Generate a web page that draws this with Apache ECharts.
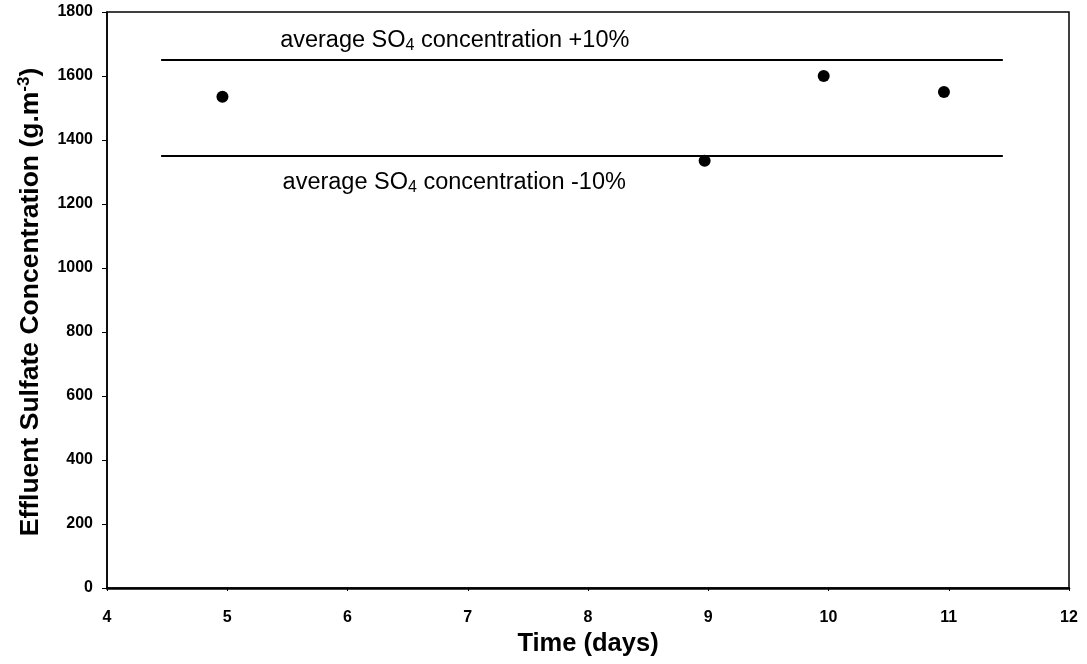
<!DOCTYPE html>
<html>
<head>
<meta charset="utf-8">
<title>Effluent sulfate concentration</title>
<script src="https://cdn.jsdelivr.net/npm/echarts@6/dist/echarts.min.js"></script>
<style>
  html, body { margin: 0; padding: 0; background: #fff; }
  #chart { width: 1087px; height: 664px; }
</style>
</head>
<body>
<div id="chart"></div>
<script>
"use strict";

// 测量点 (days, g.m-3)
const days = [4.96, 8.97, 9.96, 10.96];
const sulfate = [1535, 1335, 1600, 1550];

// 平均值 ±10% 的两条参考线
const bandDays = [4.45, 11.45];
const upperBand = [1650, 1650];
const lowerBand = [1350, 1350];

// 参考线的文字说明 [x, y]
const upperNote = [5.44, 1712];
const lowerNote = [5.46, 1268];

// 坐标轴
const xRange = [4, 12];
const yRange = [0, 1800];
const yStep = 200;

const FONT = "'Liberation Sans', Arial, sans-serif";

let chart = echarts.init(document.getElementById("chart"));

function pairs(xs, ys) {
  return xs.map(function(x, i) { return [x, ys[i]]; });
}

// 下标用的 rich 样式
const noteRich = {
  a: { fontFamily: FONT, fontSize: 23.5, color: "#000" },
  s: { fontFamily: FONT, fontSize: 16, color: "#000", padding: [10, 0, 0, 0] }
};

let option = {
  animation: false,
  backgroundColor: "#fff",
  grid: {
    left: 107,
    right: 18,
    top: 12,
    bottom: 76,
    show: true,
    borderColor: "#000",
    borderWidth: 1.5
  },
  xAxis: {
    type: "value",
    min: xRange[0],
    max: xRange[1],
    interval: 1,
    name: "Time (days)",
    nameLocation: "middle",
    nameGap: 35,
    nameTextStyle: { fontFamily: FONT, fontSize: 25.5, fontWeight: "bold", color: "#000" },
    axisLine: { lineStyle: { color: "#000", width: 2.5 } },
    axisTick: { length: 3, lineStyle: { color: "#000" } },
    axisLabel: { margin: 22, fontFamily: FONT, fontSize: 16, fontWeight: "bold", color: "#000" },
    splitLine: { show: false }
  },
  yAxis: {
    type: "value",
    min: yRange[0],
    max: yRange[1],
    interval: yStep,
    axisLine: { show: true, lineStyle: { color: "#000", width: 1.5 } },
    axisTick: { show: true, length: 5, lineStyle: { color: "#000" } },
    axisLabel: {
      margin: 14,
      fontFamily: FONT,
      fontSize: 16,
      fontWeight: "bold",
      color: "#000",
      formatter: function(v) { return String(v); }
    },
    splitLine: { show: false }
  },
  graphic: [
    {
      // y 轴标题 (带上标)
      type: "text",
      x: 31,
      y: 302,
      rotation: Math.PI / 2,
      style: {
        text: "{t|Effluent Sulfate Concentration (g.m}{p|-3}{t|)}",
        align: "center",
        verticalAlign: "middle",
        rich: {
          t: { fontFamily: FONT, fontSize: 26.5, fontWeight: "bold", fill: "#000" },
          p: { fontFamily: FONT, fontSize: 17, fontWeight: "bold", fill: "#000", padding: [0, 0, 13, 0] }
        }
      }
    }
  ],
  series: [
    {
      name: "upper",
      type: "line",
      data: pairs(bandDays, upperBand),
      symbol: "none",
      lineStyle: { color: "#000", width: 2 },
      z: 2
    },
    {
      name: "lower",
      type: "line",
      data: pairs(bandDays, lowerBand),
      symbol: "none",
      lineStyle: { color: "#000", width: 2 },
      z: 2
    },
    {
      name: "notes",
      type: "scatter",
      symbolSize: 0,
      itemStyle: { opacity: 1 },
      data: [
        { value: upperNote, label: { formatter: "{a|average SO}{s|4}{a| concentration +10%}" } },
        { value: lowerNote, label: { formatter: "{a|average SO}{s|4}{a| concentration -10%}" } }
      ],
      label: {
        show: true,
        position: "right",
        distance: 0,
        color: "#000",
        opacity: 1,
        rich: noteRich
      },
      silent: true
    },
    {
      name: "sulfate",
      type: "scatter",
      data: pairs(days, sulfate),
      symbol: "circle",
      symbolSize: 12,
      itemStyle: { color: "#000", opacity: 1 },
      z: 3
    }
  ]
};

chart.setOption(option);
</script>
</body>
</html>
